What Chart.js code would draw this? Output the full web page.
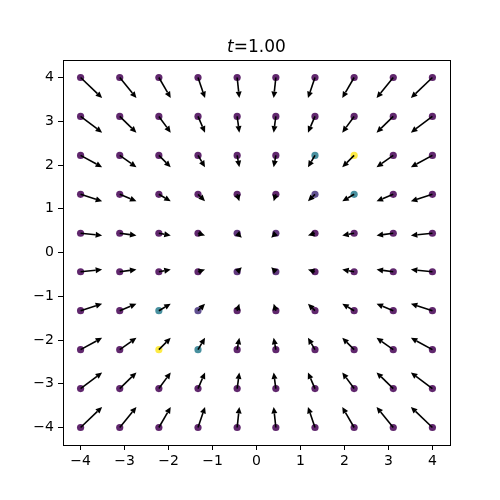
<!DOCTYPE html>
<html>
<head>
<meta charset="utf-8">
<script src="https://cdn.jsdelivr.net/npm/chart.js@4"></script>
<style>
  html, body { margin: 0; padding: 0; background: #fff; }
  #wrap { width: 500px; height: 500px; }
</style>
</head>
<body>
<div id="wrap"><canvas id="myChart" width="500" height="500"></canvas></div>
<script>
// grid coordinates (columns left->right, rows top->bottom)
const gridX = [-4, -3.11, -2.22, -1.33, -0.44, 0.44, 1.33, 2.22, 3.11, 4];
const gridY = [4, 3.11, 2.22, 1.33, 0.44, -0.44, -1.33, -2.22, -3.11, -4];
// arrow components: u per column, v per row
const arrowU = [0.49, 0.38, 0.27, 0.16, 0.05, -0.05, -0.16, -0.27, -0.38, -0.49];
const arrowV = [-0.47, -0.37, -0.27, -0.16, -0.05, 0.05, 0.16, 0.27, 0.37, 0.47];
// colour level of each point (0 = dark purple, 1 = yellow), rows top->bottom
const colorLevel = [
  [0, 0, 0, 0, 0, 0, 0, 0, 0, 0],
  [0, 0, 0, 0, 0, 0, 0, 0, 0, 0],
  [0, 0, 0, 0, 0, 0, 0.42, 1, 0, 0],
  [0, 0, 0, 0, 0, 0, 0.14, 0.42, 0, 0],
  [0, 0, 0, 0, 0.06, 0.06, 0, 0, 0, 0],
  [0, 0, 0, 0, 0.06, 0.06, 0, 0, 0, 0],
  [0, 0, 0.42, 0.14, 0, 0, 0, 0, 0, 0],
  [0, 0, 1, 0.42, 0, 0, 0, 0, 0, 0],
  [0, 0, 0, 0, 0, 0, 0, 0, 0, 0],
  [0, 0, 0, 0, 0, 0, 0, 0, 0, 0]
];
const xTicks = [-4, -3, -2, -1, 0, 1, 2, 3, 4];
const yTicks = [-4, -3, -2, -1, 0, 1, 2, 3, 4];
const titleText = '=1.00';

const viridis = [
  [68, 1, 84], [72, 40, 120], [62, 73, 137], [49, 104, 142], [38, 130, 142],
  [31, 158, 137], [53, 183, 121], [109, 205, 89], [180, 222, 44], [253, 231, 37]
];
function viridisColor(t, a) {
  const p = t * (viridis.length - 1);
  const i = Math.min(Math.floor(p), viridis.length - 2);
  const f = p - i;
  const c = viridis[i].map((v, k) => Math.round(v + (viridis[i + 1][k] - v) * f));
  return `rgba(${c[0]},${c[1]},${c[2]},${a})`;
}

const points = [];
const colors = [];
gridY.forEach((y, r) => {
  gridX.forEach((x, c) => {
    points.push({ x: x, y: y, u: arrowU[c], v: arrowV[r] });
    colors.push(viridisColor(colorLevel[r][c], 0.85));
  });
});

const fmt = v => (v < 0 ? '\u2212' + Math.abs(v) : String(v));

const quiverPlugin = {
  id: 'quiver',
  afterDatasetsDraw(chart) {
    const ctx = chart.ctx;
    const xs = chart.scales.x, ys = chart.scales.y;
    ctx.save();
    ctx.fillStyle = '#000';
    ctx.strokeStyle = '#000';
    ctx.lineWidth = 1.6;
    points.forEach(p => {
      const x0 = xs.getPixelForValue(p.x), y0 = ys.getPixelForValue(p.y);
      let x1 = xs.getPixelForValue(p.x + p.u), y1 = ys.getPixelForValue(p.y + p.v);
      let dx = x1 - x0, dy = y1 - y0;
      let len = Math.hypot(dx, dy);
      const ux = dx / len, uy = dy / len;
      const headLen = 6.5, headW = 3;
      if (len < headLen) { len = headLen; x1 = x0 + ux * len; y1 = y0 + uy * len; }
      const bx = x1 - ux * headLen, by = y1 - uy * headLen;
      ctx.beginPath();
      ctx.moveTo(x0, y0);
      ctx.lineTo(bx, by);
      ctx.stroke();
      ctx.beginPath();
      ctx.moveTo(x1, y1);
      ctx.lineTo(bx - uy * headW, by + ux * headW);
      ctx.lineTo(bx + uy * headW, by - ux * headW);
      ctx.closePath();
      ctx.fill();
    });
    ctx.restore();
  },
  afterDraw(chart) {
    const ctx = chart.ctx;
    const a = chart.chartArea;
    ctx.save();
    ctx.strokeStyle = '#000';
    ctx.lineWidth = 1;
    ctx.strokeRect(Math.round(a.left) + 0.5, Math.round(a.top) + 0.5,
      Math.round(a.right - a.left), Math.round(a.bottom - a.top));
    // title with italic t
    ctx.fillStyle = '#000';
    ctx.textBaseline = 'alphabetic';
    ctx.font = 'italic 17px "DejaVu Sans"';
    const w1 = ctx.measureText('t').width;
    ctx.font = '17px "DejaVu Sans"';
    const w2 = ctx.measureText(titleText).width;
    const cx = (a.left + a.right) / 2;
    const sx = cx - (w1 + w2) / 2;
    ctx.font = 'italic 17px "DejaVu Sans"';
    ctx.fillText('t', sx, 52);
    ctx.font = '17px "DejaVu Sans"';
    ctx.fillText(titleText, sx + w1, 52);
    ctx.restore();
  }
};

const ctx = document.getElementById('myChart');
new Chart(ctx, {
  type: 'scatter',
  data: {
    datasets: [{
      data: points,
      pointBackgroundColor: colors,
      pointBorderWidth: 0,
      pointRadius: 3.6
    }]
  },
  options: {
    responsive: false,
    animation: false,
    layout: { padding: { left: 0, top: 60, right: 50, bottom: 0 } },
    plugins: { legend: { display: false }, tooltip: { enabled: false } },
    scales: {
      x: {
        type: 'linear', min: -4.4, max: 4.4,
        afterFit: s => { s.height = 55; },
        afterBuildTicks: s => { s.ticks = xTicks.map(v => ({ value: v })); },
        grid: { drawOnChartArea: false, drawTicks: true, tickLength: 5, tickColor: '#000', tickWidth: 1 },
        border: { display: true, color: '#000', width: 1 },
        ticks: { color: '#000', padding: 3, font: { family: 'DejaVu Sans', size: 14 }, callback: fmt, maxRotation: 0 }
      },
      y: {
        type: 'linear', min: -4.4, max: 4.4,
        afterFit: s => { s.width = 63; },
        afterBuildTicks: s => { s.ticks = yTicks.map(v => ({ value: v })); },
        grid: { drawOnChartArea: false, drawTicks: true, tickLength: 5, tickColor: '#000', tickWidth: 1 },
        border: { display: true, color: '#000', width: 1 },
        ticks: { color: '#000', padding: 4, font: { family: 'DejaVu Sans', size: 14 }, callback: fmt }
      }
    }
  },
  plugins: [quiverPlugin]
});
</script>
</body>
</html>
